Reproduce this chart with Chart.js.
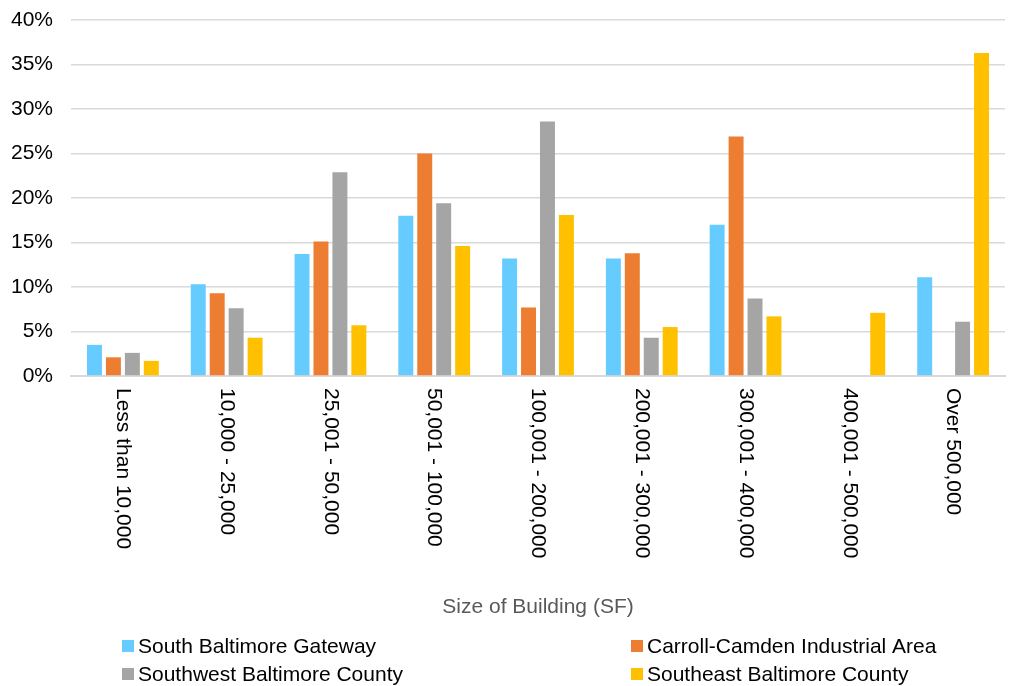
<!DOCTYPE html>
<html>
<head>
<meta charset="utf-8">
<script src="https://cdn.jsdelivr.net/npm/chart.js@4.4.0/dist/chart.umd.min.js"></script>
<style>
  html, body { margin: 0; padding: 0; background: #fff; }
  #wrap { width: 1011px; height: 686px; }
</style>
</head>
<body>
<div id="wrap"><canvas id="chart" width="1011" height="686"></canvas></div>
<script>
// building size buckets
const categories = ['Less than 10,000', '10,000 - 25,000', '25,001 - 50,000', '50,001 - 100,000',
  '100,001 - 200,000', '200,001 - 300,000', '300,001 - 400,000', '400,001 - 500,000', 'Over 500,000'];

const southBaltimoreGateway = [3.5, 10.3, 13.7, 18.0, 13.2, 13.2, 17.0, 0, 11.1];
const carrollCamden = [2.1, 9.3, 15.1, 25.0, 7.7, 13.8, 26.9, 0, 0];
const southwestCounty = [2.6, 7.6, 22.9, 19.4, 28.6, 4.3, 8.7, 0, 6.1];
const southeastCounty = [1.7, 4.3, 5.7, 14.6, 18.1, 5.5, 6.7, 7.1, 36.3];

const seriesNames = ['South Baltimore Gateway', 'Carroll-Camden Industrial Area',
  'Southwest Baltimore County', 'Southeast Baltimore County'];
const colors = ['#66CCFF', '#ED7D31', '#A5A5A5', '#FFC000'];
const yTicks = [0, 5, 10, 15, 20, 25, 30, 35, 40];

const FONT = 'Arial, "Liberation Sans", sans-serif';

// x labels read top-to-bottom and a 2x2 legend, drawn by hand
const extras = {
  id: 'extras',
  afterDraw(chart) {
    const ctx = chart.ctx;
    const xs = chart.scales.x;
    ctx.save();
    ctx.font = '21px ' + FONT;
    ctx.fillStyle = '#000';
    ctx.textBaseline = 'middle';
    ctx.textAlign = 'left';
    categories.forEach((c, i) => {
      const x = xs.getPixelForValue(i);
      ctx.save();
      ctx.translate(x, xs.top + 12);
      ctx.rotate(Math.PI / 2);
      ctx.fillText(c, 0, 0);
      ctx.restore();
    });

    const cols = [122, 631];
    const rows = [646, 674];
    chart.data.datasets.forEach((ds, i) => {
      const x = cols[i % 2], y = rows[Math.floor(i / 2)];
      ctx.fillStyle = ds.backgroundColor;
      ctx.fillRect(x, y - 6, 12, 12);
      ctx.fillStyle = '#000';
      ctx.fillText(ds.label, x + 16, y + 1);
    });
    ctx.restore();
  }
};

const datasets = [southBaltimoreGateway, carrollCamden, southwestCounty, southeastCounty].map((d, i) => ({
  label: seriesNames[i],
  data: d,
  backgroundColor: colors[i],
  borderWidth: 0,
  barPercentage: 0.79,
  categoryPercentage: 0.73
}));

new Chart(document.getElementById('chart'), {
  type: 'bar',
  data: { labels: categories, datasets: datasets },
  options: {
    responsive: false,
    animation: false,
    layout: { padding: { top: 20, right: 6, bottom: 66, left: 0 } },
    plugins: { legend: { display: false }, tooltip: { enabled: false } },
    scales: {
      x: {
        grid: { display: false },
        border: { color: '#D9D9D9', width: 2 },
        ticks: { display: false },
        title: {
          display: true,
          text: 'Size of Building (SF)',
          color: '#595959',
          font: { family: FONT, size: 21 },
          padding: { top: 0, bottom: 0 }
        },
        afterFit(scale) { scale.height = 244; }
      },
      y: {
        min: 0,
        max: 40,
        afterBuildTicks(scale) { scale.ticks = yTicks.map(v => ({ value: v })); },
        grid: { color: '#D9D9D9', lineWidth: 1.5, drawTicks: false },
        border: { display: false },
        ticks: {
          color: '#000',
          padding: 18,
          font: { family: FONT, size: 21 },
          callback: v => v + '%'
        },
        afterFit(scale) {
          scale.width = 71;
          scale.paddingTop = 0;
          scale.paddingBottom = 0;
        }
      }
    }
  },
  plugins: [extras]
});
</script>
</body>
</html>
